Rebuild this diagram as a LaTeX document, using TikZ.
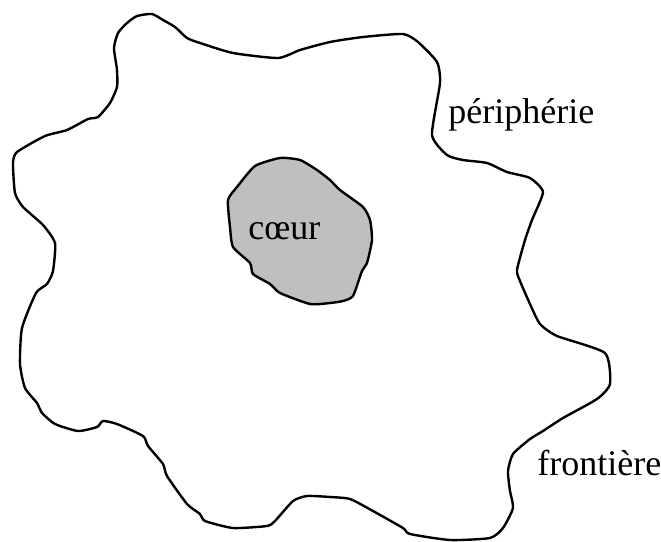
\documentclass[tikz,border=0pt]{standalone}
\usepackage{fontspec}
\setmainfont{Liberation Serif}
\usepackage{tikz}

\begin{document}
\begin{tikzpicture}[x=0.5pt,y=-0.5pt,
  contour/.style={draw,line width=1.2pt,line join=round},
  lbl/.style={anchor=base west,inner sep=0pt,font=\fontsize{18}{22}\selectfont}
]
\useasboundingbox (0,0) rectangle (661,542);

% frontière extérieure
\draw[contour,fill=white] plot[smooth cycle,tension=0.35] coordinates {
  (152,14) (163,20) (175,27) (187,38) (200,43) (233,53) (278,58) (300,50)
  (330,42) (363,37) (403,34) (418,42) (437,62) (440,83) (432,135) (447,155)
  (463,160) (487,163) (507,172) (530,178) (543,192) (532,220) (525,240)
  (517,270) (520,281) (530,304) (540,324) (557,336) (605,353) (610,384)
  (597,399) (563,418) (543,431) (530,439) (513,454) (508,471) (510,491)
  (513,508) (503,528) (490,538) (450,540) (410,534) (403,528) (373,511)
  (350,499) (330,497) (307,496) (293,501) (275,521) (267,526) (233,528)
  (205,521) (200,514) (187,504) (167,476) (163,464) (148,446) (143,436)
  (117,424) (103,421) (97,427) (78,431) (55,424) (42,413) (37,403) (25,388)
  (20,364) (22,328) (36,293) (47,284) (53,271) (55,243) (43,225) (23,207)
  (15,193) (13,163) (17,152) (45,136) (67,130) (88,119) (98,117) (110,103)
  (117,87) (117,70) (114,48) (118,33) (127,23) (137,16)};

% coeur
\draw[contour,fill=black!25] plot[smooth cycle,tension=0.35] coordinates {
  (228,200) (237,187) (255,166) (280,158) (300,160) (317,170) (330,180)
  (340,190) (363,207) (370,220) (372,240) (367,263) (362,271) (353,296)
  (343,301) (330,303) (310,304) (280,293) (270,284) (253,274) (250,263)
  (233,247) (230,227)};

% textes
\node[lbl] (coeur) at (248,239) {cœur};
\node[lbl] (periph) at (448,123) {périphérie};
\node[lbl] (front) at (537,475) {frontière};
\end{tikzpicture}
\end{document}
